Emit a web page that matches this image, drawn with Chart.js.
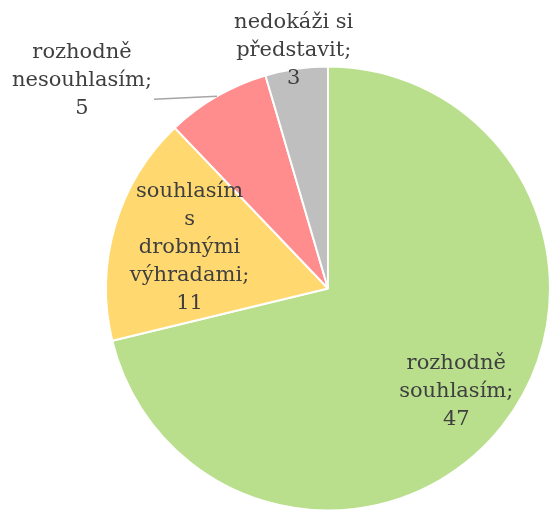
<!DOCTYPE html>
<html><head><meta charset="utf-8">
<script src="https://cdn.jsdelivr.net/npm/chart.js@4"></script>
<style>html,body{margin:0;padding:0;background:#fff;overflow:hidden;width:552px;height:510px}canvas{display:block}</style>
</head><body>
<canvas id="c" width="552" height="512" style="width:552px;height:512px"></canvas>
<script>
const categories = ['rozhodně souhlasím', 'souhlasím s drobnými výhradami', 'rozhodně nesouhlasím', 'nedokáži si představit'];
const values = [47, 11, 5, 3];
const labelLines = [
  ['rozhodně', 'souhlasím;', '47'],
  ['souhlasím', 's', 'drobnými', 'výhradami;', '11'],
  ['rozhodně', 'nesouhlasím;', '5'],
  ['nedokáži si', 'představit;', '3']
];
const colors = ['#B9DF8D', '#FFD96F', '#FF8D8D', '#BFBFBF'];

const labelPlugin = {
  id: 'sliceLabels',
  afterDatasetsDraw(chart, args, opts) {
    const ctx = chart.ctx;
    const meta = chart.getDatasetMeta(0);
    ctx.save();
    ctx.font = opts.font;
    ctx.fillStyle = opts.color;
    ctx.textAlign = 'center';
    ctx.textBaseline = 'middle';
    meta.data.forEach((el, i) => {
      const p = opts.place[i];
      const mid = (el.startAngle + el.endAngle) / 2;
      const r = el.outerRadius * p.f;
      const ax = el.x + Math.cos(mid) * r;
      const ay = el.y + Math.sin(mid) * r;
      const cx = ax + (p.dx || 0), cy = ay + (p.dy || 0);
      if (p.leader) {
        ctx.save();
        ctx.strokeStyle = opts.leaderColor;
        ctx.lineWidth = 1.5;
        ctx.beginPath();
        ctx.moveTo(ax, ay);
        ctx.lineTo(ax + p.leader[0], ay + p.leader[1]);
        ctx.stroke();
        ctx.restore();
      }
      const lines = labelLines[i];
      const lh = opts.lineHeight;
      const y0 = cy - (lines.length - 1) * lh / 2;
      lines.forEach((t, k) => ctx.fillText(t, cx, y0 + k * lh));
    });
    ctx.restore();
  }
};

new Chart(document.getElementById('c'), {
  type: 'pie',
  data: {
    labels: categories,
    datasets: [{
      data: values,
      backgroundColor: colors,
      borderColor: '#FFFFFF',
      borderWidth: 2
    }]
  },
  options: {
    responsive: false,
    animation: false,
    layout: { padding: { left: 105, right: 1, top: 65, bottom: 0 } },
    plugins: {
      legend: { display: false },
      tooltip: { enabled: false },
      sliceLabels: {
        font: '21px "DejaVu Serif"',
        color: '#3F3F3F',
        leaderColor: '#A6A6A6',
        lineHeight: 28,
        place: [
          { f: 0.735, dy: 2 },
          { f: 0.65 },
          { f: 1.0, dx: -135, dy: -16, leader: [-63, 3] },
          { f: 1.085 }
        ]
      }
    }
  },
  plugins: [labelPlugin]
});
</script>
</body></html>
